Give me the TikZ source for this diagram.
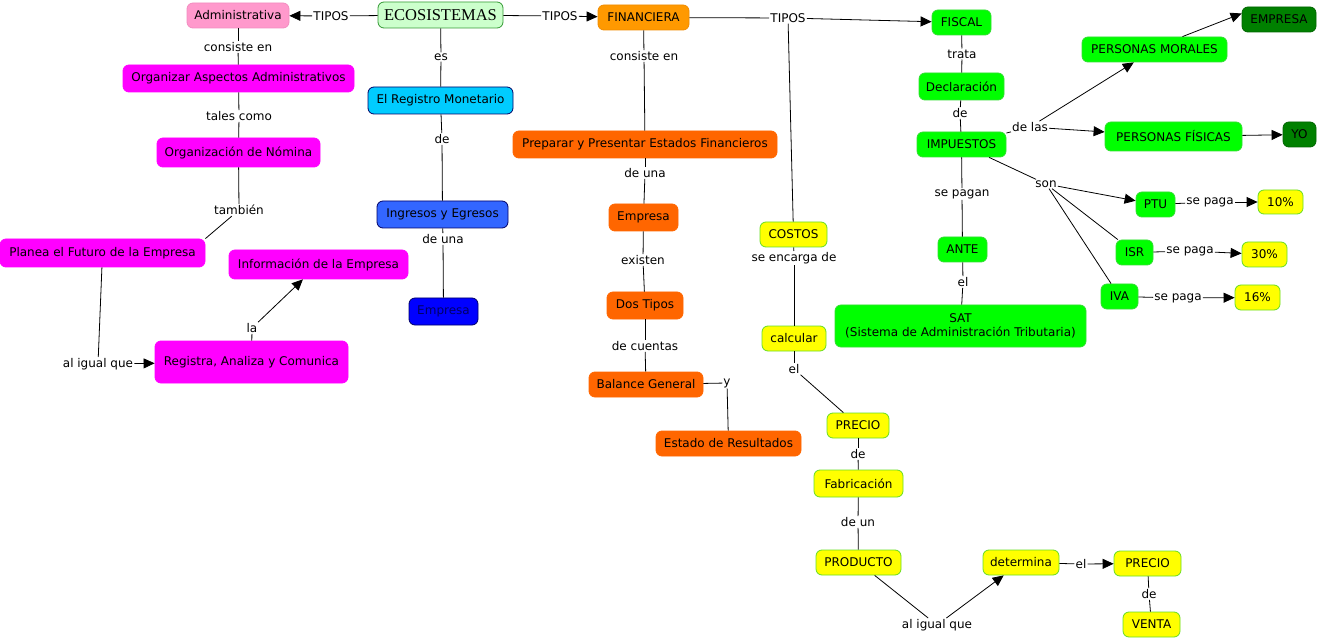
\documentclass[tikz,border=0pt]{standalone}
\usepackage{fontspec}
\setmainfont{DejaVu Sans}
\newfontfamily\ecofont{Liberation Serif}
\usepackage{tikz}
\usetikzlibrary{arrows.meta}
\usetikzlibrary{positioning}

\definecolor{ecoFill}{HTML}{CCFFCC}
\definecolor{ecoLine}{HTML}{339933}
\definecolor{rosa}{HTML}{FF99CC}
\definecolor{rosaLine}{HTML}{F28CC0}
\definecolor{magenta}{HTML}{FF00FF}
\definecolor{cian}{HTML}{00CCFF}
\definecolor{azulMedio}{HTML}{3366FF}
\definecolor{azul}{HTML}{0000FF}
\definecolor{azulLine}{HTML}{000066}
\definecolor{naranjaA}{HTML}{FF9900}
\definecolor{naranjaALine}{HTML}{F08C00}
\definecolor{naranja}{HTML}{FF6600}
\definecolor{verde}{HTML}{00FF00}
\definecolor{verdeLine}{HTML}{33DD33}
\definecolor{verdeOsc}{HTML}{008000}
\definecolor{verdeOscLine}{HTML}{006600}
\definecolor{amarillo}{HTML}{FFFF00}
\definecolor{amarilloLine}{HTML}{66DD22}

\begin{document}
\begin{tikzpicture}[x=1pt, y=-1pt,
    admin/.style={fill=magenta, draw=magenta},
    cont/.style={fill=naranja, draw=naranja},
    fisc/.style={fill=verde, draw=verdeLine},
    osc/.style={fill=verdeOsc, draw=verdeOscLine},
    cost/.style={fill=amarillo, draw=amarilloLine}]
	\useasboundingbox (0,0) rectangle (1318,639);

	\begin{scope}[every node/.style={rounded corners=6pt, line width=0.8pt,
	              inner xsep=2pt, inner ysep=1pt, font=\fontsize{12}{14}\selectfont}]
		\node[fill=ecoFill, draw=ecoLine, minimum width=125, minimum height=26, font=\ecofont\fontsize{16.5}{18}\selectfont] (eco) at (440.5,15) {ECOSISTEMAS};
		% administrativa
		\node[fill=rosa, draw=rosaLine, minimum width=102, minimum height=25] (adm) at (238,15.5) {Administrativa};
		\node[admin, minimum width=231, minimum height=27] (org) at (238.5,78.5) {Organizar Aspectos Administrativos};
		\node[admin, minimum width=163, minimum height=29] (nom) at (238.5,152.5) {Organización de Nómina};
		\node[admin, minimum width=205, minimum height=28] (planea) at (102.5,253) {Planea el Futuro de la Empresa};
		\node[admin, minimum width=179, minimum height=29] (info) at (318.5,264.5) {Información de la Empresa};
		\node[admin, minimum width=193, minimum height=42] (regis) at (251.5,362) {Registra, Analiza y Comunica};
		% registro
		\node[fill=cian, draw=azulLine, minimum width=145, minimum height=27] (reg) at (440.5,100.5) {El Registro Monetario};
		\node[fill=azulMedio, draw=azulLine, minimum width=131, minimum height=27] (ing) at (442.5,214.5) {Ingresos y Egresos};
		\node[fill=azul, draw=azulLine, text=azulLine, minimum width=69, minimum height=27] (empB) at (443.5,311.5) {Empresa};
		% financiera
		\node[fill=naranjaA, draw=naranjaALine, minimum width=91, minimum height=25] (fin) at (643.5,17.5) {FINANCIERA};
		\node[cont, minimum width=264, minimum height=27] (prep) at (645,144.5) {Preparar y Presentar Estados Financieros};
		\node[cont, minimum width=69, minimum height=27] (empN) at (643.5,217.5) {Empresa};
		\node[cont, minimum width=76, minimum height=27] (dos) at (645,305.5) {Dos Tipos};
		\node[cont, minimum width=114, minimum height=25] (bal) at (646,384.5) {Balance General};
		\node[cont, minimum width=145, minimum height=25] (est) at (728.5,443.5) {Estado de Resultados};
		% fiscal
		\node[fisc, minimum width=59, minimum height=25] (fiscal) at (961.5,22.5) {FISCAL};
		\node[fisc, minimum width=85, minimum height=27] (decl) at (961.5,86.5) {Declaración};
		\node[fisc, minimum width=89, minimum height=25] (imp) at (961.5,144.5) {IMPUESTOS};
		\node[fisc, minimum width=49, minimum height=25] (ante) at (962.5,249.5) {ANTE};
		\node[fisc, minimum width=251, minimum height=42, align=center] (sat) at (960.5,326) {SAT\\(Sistema de Administración Tributaria)};
		\node[fisc, minimum width=145, minimum height=25] (pm) at (1154.5,49.5) {PERSONAS MORALES};
		\node[fisc, minimum width=137, minimum height=29] (pf) at (1173.5,136.5) {PERSONAS FÍSICAS};
		\node[osc, minimum width=74, minimum height=25] (empV) at (1279,19.5) {EMPRESA};
		\node[osc, minimum width=33, minimum height=25] (yo) at (1299.5,134.5) {YO};
		\node[fisc, minimum width=39, minimum height=25] (ptu) at (1155.5,204.5) {PTU};
		\node[fisc, minimum width=37, minimum height=25] (isr) at (1134.5,252.5) {ISR};
		\node[fisc, minimum width=37, minimum height=25] (iva) at (1119.5,296.5) {IVA};
		\node[cost, minimum width=45, minimum height=24] (p10) at (1280.5,202) {10\%};
		\node[cost, minimum width=45, minimum height=25] (p30) at (1264.5,254.5) {30\%};
		\node[cost, minimum width=45, minimum height=25] (p16) at (1257.5,297.5) {16\%};
		% costos
		\node[cost, minimum width=67, minimum height=25] (costos) at (793.5,234.5) {COSTOS};
		\node[cost, minimum width=64, minimum height=25] (calc) at (794,338.5) {calcular};
		\node[cost, minimum width=62, minimum height=25] (precio) at (858,425.5) {PRECIO};
		\node[cost, minimum width=89, minimum height=27] (fab) at (858.5,483.5) {Fabricación};
		\node[cost, minimum width=85, minimum height=25] (prod) at (858.5,562.5) {PRODUCTO};
		\node[cost, minimum width=76, minimum height=25] (det) at (1021,562.5) {determina};
		\node[cost, minimum width=67, minimum height=25] (venPre) at (1147.5,563.5) {PRECIO};
		\node[cost, minimum width=57, minimum height=25] (venta) at (1151.5,624.5) {VENTA};
	\end{scope}

	\begin{scope}[every node/.style={inner sep=1pt, font=\fontsize{12}{14}\selectfont}]
		\node (tA) at (331,16) {TIPOS};
		\node (tB) at (560,16) {TIPOS};
		\node (tC) at (788,18) {TIPOS};
		\node (a1) at (238,47) {consiste en};
		\node (a2) at (239,116) {tales como};
		\node (a3) at (239,210) {también};
		\node (a4) at (98,364) {al igual que};
		\node (a5) at (252,328) {la};
		\node (b1) at (441,57) {es};
		\node (b2) at (442,139) {de};
		\node (b3) at (443,239) {de una};
		\node (c1) at (644,56) {consiste en};
		\node (c2) at (645,173) {de una};
		\node (c3) at (643,260) {existen};
		\node (c4) at (645,346) {de cuentas};
		\node (c5) at (727,383) {y};
		\node (d1) at (962,54) {trata};
		\node (d2) at (960,113) {de};
		\node (d3) at (1030,127) {de las};
		\node (d4) at (1046,184) {son};
		\node (d5) at (1210,202) {se paga};
		\node (d6) at (1190,251) {se paga};
		\node (d7) at (1178,298) {se paga};
		\node (d8) at (962,194) {se pagan};
		\node (d9) at (963,282) {el};
		\node (e1) at (794,258) {se encarga de};
		\node (e2) at (794,369) {el};
		\node (e3) at (858,454) {de};
		\node (e4) at (858,522) {de un};
		\node (e5) at (937,625) {al igual que};
		\node (e6) at (1081,564) {el};
		\node (e7) at (1149,594) {de};
	\end{scope}

	\begin{scope}[>={Triangle[length=11pt,width=10pt]},
	              every edge/.style={draw=black, line width=0.8pt}]
		\path (eco) edge (tA);
		\path (tA) edge[->] (adm);
		\path (eco) edge (tB);
		\path (tB) edge[->] (fin);
		\path (fin) edge (tC);
		\path (tC) edge[->] (fiscal);
		\path (tC) edge (costos);
		% administrativa
		\path (adm) edge (a1);
		\path (a1) edge (org);
		\path (org) edge (a2);
		\path (a2) edge (nom);
		\path (nom) edge (a3);
		\path (a3) edge (planea.north east);
		\path (planea) edge (a4);
		\path (a4) edge[->] (regis);
		\path (regis) edge (a5);
		\path (a5) edge[->] (info);
		% registro
		\path (eco) edge (b1);
		\path (b1) edge (reg);
		\path (reg) edge (b2);
		\path (b2) edge (ing);
		\path (ing) edge (b3);
		\path (b3) edge (empB);
		% financiera
		\path (fin) edge (c1);
		\path (c1) edge (prep);
		\path (prep) edge (c2);
		\path (c2) edge (empN);
		\path (empN) edge (c3);
		\path (c3) edge (dos);
		\path (dos) edge (c4);
		\path (c4) edge (bal);
		\path (bal) edge (c5);
		\path (c5) edge (est);
		% fiscal
		\path (fiscal) edge (d1);
		\path (d1) edge (decl);
		\path (decl) edge (d2);
		\path (d2) edge (imp);
		\path (imp) edge (d3);
		\path (d3) edge[->] (pm);
		\path (d3) edge[->] (pf);
		\path ([xshift=28pt]pm.north) edge[->] ([yshift=6pt]empV.west);
		\path (pf) edge[->] (yo);
		\path (imp) edge (d4);
		\path (d4) edge[->] (ptu);
		\path (d4) edge (isr);
		\path (d4) edge (iva);
		\path (ptu) edge (d5);
		\path (d5) edge[->] (p10);
		\path (isr) edge (d6);
		\path (d6) edge[->] (p30);
		\path (iva) edge (d7);
		\path (d7) edge[->] (p16);
		\path (imp) edge (d8);
		\path (d8) edge (ante);
		\path (ante) edge (d9);
		\path (d9) edge (sat);
		% costos
		\path (costos) edge (e1);
		\path (e1) edge (calc);
		\path (calc) edge (e2);
		\path (e2) edge (precio);
		\path (precio) edge (e3);
		\path (e3) edge (fab);
		\path (fab) edge (e4);
		\path (e4) edge (prod);
		\path (prod) edge (e5);
		\path (e5) edge[->] (det);
		\path (det) edge (e6);
		\path (e6) edge[->] (venPre);
		\path (venPre) edge (e7);
		\path (e7) edge (venta);
	\end{scope}
\end{tikzpicture}
\end{document}
